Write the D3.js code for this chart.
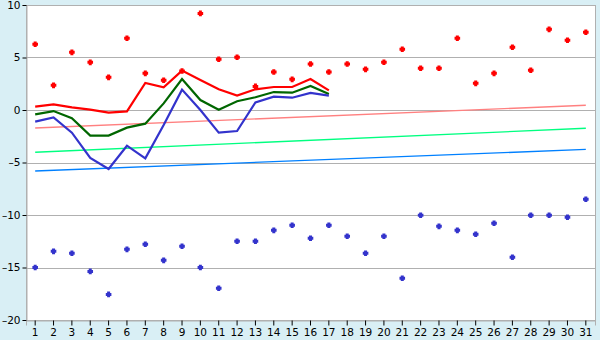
<!DOCTYPE html>
<html>
<head>
<meta charset="utf-8">
<script src="https://cdn.jsdelivr.net/npm/d3@7"></script>
<style>
  body { margin: 0; background: #d9eff5; }
  svg { display: block; font-family: "DejaVu Sans", sans-serif; }
</style>
</head>
<body>
<div id="chart"></div>
<script>
const days = d3.range(1, 32);
const yTicks = [10, 5, 0, -5, -10, -15, -20];

// daily extremes (scatter)
const highs = [6.26, 2.35, 5.49, 4.54, 3.11, 6.83, 3.49, 2.83, 3.71, 9.2,
  4.83, 5.02, 2.25, 3.62, 2.92, 4.38, 3.62, 4.38, 3.87, 4.55,
  5.78, 3.97, 3.97, 6.83, 2.54, 3.49, 5.97, 3.78, 7.68, 6.64, 7.4];
const lows = [-15, -13.46, -13.65, -15.37, -17.56, -13.27, -12.79, -14.32, -12.98, -15,
  -16.98, -12.5, -12.5, -11.46, -10.98, -12.22, -10.98, -12.03, -13.65, -12.03,
  -16.03, -10.03, -11.08, -11.46, -11.84, -10.79, -14.03, -10.03, -10.03, -10.22, -8.5];

// daily lines, days 1-17
const maxLine = [0.32, 0.54, 0.25, 0.03, -0.25, -0.13, 2.57, 2.16, 3.75, 2.86,
  1.97, 1.37, 1.97, 2.19, 2.19, 2.95, 1.87];
const meanLine = [-0.41, -0.1, -0.79, -2.44, -2.44, -1.68, -1.3, 0.63, 2.95, 0.95,
  0.03, 0.83, 1.21, 1.71, 1.65, 2.29, 1.52];
const minLine = [-1.11, -0.7, -2.16, -4.57, -5.62, -3.4, -4.6, -1.43, 1.94, 0.0,
  -2.16, -2.0, 0.73, 1.27, 1.17, 1.62, 1.37];

// long-term normals: value at day 1 and day 31
const normMax = [-1.71, 0.45];
const normMean = [-4.03, -1.74];
const normMin = [-5.81, -3.75];

const width = 600, height = 340;
const margin = { top: 5, right: 5, bottom: 20, left: 26 };

const svg = d3.select("#chart").append("svg")
  .attr("width", width)
  .attr("height", height);

const x = d3.scaleBand()
  .domain(days)
  .range([margin.left, width - margin.right]);
const xc = d => x(d) + x.bandwidth() / 2;

const y = d3.scaleLinear()
  .domain([-20, 10])
  .range([height - margin.bottom, margin.top]);

// plot area
svg.append("rect")
  .attr("x", margin.left)
  .attr("y", margin.top)
  .attr("width", width - margin.right - margin.left)
  .attr("height", height - margin.bottom - margin.top)
  .attr("fill", "#fff")
  .attr("stroke", "#b0b0b0")
  .attr("shape-rendering", "crispEdges");

// gridlines
svg.append("g")
  .selectAll("line")
  .data(yTicks)
  .enter().append("line")
  .attr("x1", margin.left)
  .attr("x2", width - margin.right)
  .attr("y1", d => Math.round(y(d)) + 0.5)
  .attr("y2", d => Math.round(y(d)) + 0.5)
  .attr("stroke", "#b0b0b0");

// y axis
const yAxis = svg.append("g")
  .attr("transform", `translate(${margin.left + 0.5},0)`)
  .call(d3.axisLeft(y).tickValues(yTicks).tickSize(4).tickPadding(2)
    .tickFormat(d => d < 0 ? "\u2013" + Math.abs(d) : d));
yAxis.select(".domain").attr("stroke", "#b0b0b0");
yAxis.selectAll(".tick line").attr("stroke", "#000");
yAxis.selectAll("text").attr("font-size", 10.5).attr("fill", "#000")
  .attr("font-family", "DejaVu Sans, sans-serif");

// x axis
const xAxis = svg.append("g")
  .attr("transform", `translate(0,${height - margin.bottom + 0.5})`)
  .call(d3.axisBottom(x).tickSize(5).tickPadding(3));
xAxis.select(".domain").attr("stroke", "#b0b0b0");
xAxis.selectAll(".tick line").attr("stroke", "#000");
xAxis.selectAll("text").attr("font-size", 10.5).attr("fill", "#000")
  .attr("font-family", "DejaVu Sans, sans-serif");

// normals (thin straight lines)
const norms = [
  { v: normMax, color: "#ff8080" },
  { v: normMean, color: "#00ff80" },
  { v: normMin, color: "#0080ff" }
];
svg.append("g")
  .selectAll("line")
  .data(norms)
  .enter().append("line")
  .attr("x1", xc(1))
  .attr("x2", xc(31))
  .attr("y1", d => y(d.v[0]))
  .attr("y2", d => y(d.v[1]))
  .attr("stroke", d => d.color)
  .attr("stroke-width", 1.4);

// daily lines
const line = d3.line()
  .x((d, i) => xc(days[i]))
  .y(d => y(d));

const series = [
  { v: maxLine, color: "#ff0000" },
  { v: meanLine, color: "#006600" },
  { v: minLine, color: "#3333cc" }
];
svg.append("g")
  .selectAll("path")
  .data(series)
  .enter().append("path")
  .attr("d", d => line(d.v))
  .attr("fill", "none")
  .attr("stroke", d => d.color)
  .attr("stroke-width", 2.2);

// scatter points: chunky plus marker
const plus = {
  draw(ctx) {
    const a = 1.5, b = 2.8;
    ctx.moveTo(-a, -b); ctx.lineTo(a, -b); ctx.lineTo(a, -a); ctx.lineTo(b, -a);
    ctx.lineTo(b, a); ctx.lineTo(a, a); ctx.lineTo(a, b); ctx.lineTo(-a, b);
    ctx.lineTo(-a, a); ctx.lineTo(-b, a); ctx.lineTo(-b, -a); ctx.lineTo(-a, -a);
    ctx.closePath();
  }
};
const sym = d3.symbol().type(plus);
svg.append("g")
  .selectAll("path")
  .data(highs)
  .enter().append("path")
  .attr("d", sym)
  .attr("transform", (d, i) => `translate(${xc(days[i])},${y(d)})`)
  .attr("fill", "#ff0000");

svg.append("g")
  .selectAll("path")
  .data(lows)
  .enter().append("path")
  .attr("d", sym)
  .attr("transform", (d, i) => `translate(${xc(days[i])},${y(d)})`)
  .attr("fill", "#3333cc");
</script>
</body>
</html>
